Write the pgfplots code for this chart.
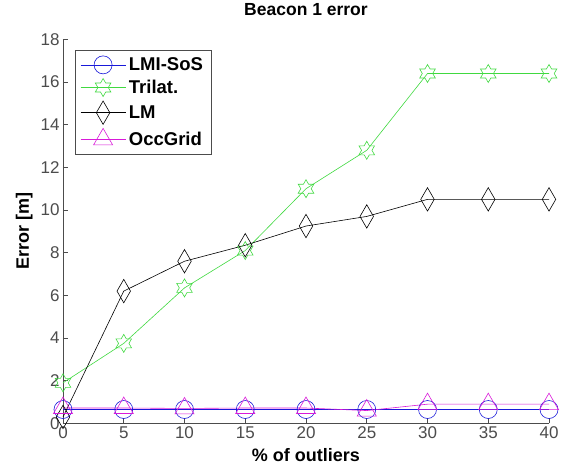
\documentclass[border=0pt]{standalone}
\usepackage{pgfplots}
\pgfplotsset{compat=1.18}
\usepackage{fontspec}
\setmainfont{Liberation Sans}
\usetikzlibrary{calc}
\definecolor{mblue}{rgb}{0.1,0.1,0.85}
\definecolor{mgreen}{rgb}{0.25,0.85,0.25}
\definecolor{mmag}{rgb}{0.85,0.1,0.85}
\definecolor{axgray}{rgb}{0.3,0.3,0.3}
\pgfdeclareplotmark{hexagram}{%
  \pgfpathmoveto{\pgfpointpolar{90}{\pgfplotmarksize}}%
  \pgfpathlineto{\pgfpointpolar{120}{0.57735\pgfplotmarksize}}%
  \pgfpathlineto{\pgfpointpolar{150}{\pgfplotmarksize}}%
  \pgfpathlineto{\pgfpointpolar{180}{0.57735\pgfplotmarksize}}%
  \pgfpathlineto{\pgfpointpolar{210}{\pgfplotmarksize}}%
  \pgfpathlineto{\pgfpointpolar{240}{0.57735\pgfplotmarksize}}%
  \pgfpathlineto{\pgfpointpolar{270}{\pgfplotmarksize}}%
  \pgfpathlineto{\pgfpointpolar{300}{0.57735\pgfplotmarksize}}%
  \pgfpathlineto{\pgfpointpolar{330}{\pgfplotmarksize}}%
  \pgfpathlineto{\pgfpointpolar{0}{0.57735\pgfplotmarksize}}%
  \pgfpathlineto{\pgfpointpolar{30}{\pgfplotmarksize}}%
  \pgfpathlineto{\pgfpointpolar{60}{0.57735\pgfplotmarksize}}%
  \pgfpathclose
  \pgfusepathqstroke
}
\begin{document}
\begin{tikzpicture}
\begin{axis}[
  scale only axis,
  width=486pt, height=384pt,
  xmin=0, xmax=40, ymin=0, ymax=18,
  xtick={0,5,...,40},
  ytick={0,2,...,18},
  axis x line*=bottom, axis y line*=left,
  axis line style={axgray, line width=0.6pt},
  tick style={axgray, line width=0.6pt},
  tick align=inside,
  major tick length=5pt,
  clip=false,
  /pgf/number format/assume math mode=true,
  tick label style={font=\fontsize{17}{20}\selectfont, text=axgray},
  title={\textbf{Beacon 1 error}},
  title style={font=\fontsize{17.5}{20}\selectfont, at={(axis description cs:0.5,1)}, anchor=base, yshift=18pt},
  xlabel={\textbf{\% of outliers}},
  xlabel style={font=\fontsize{18}{20}\selectfont, at={(axis description cs:0.5,0)}, anchor=base, yshift=-38pt},
  ylabel={\textbf{Error [m]}},
  ylabel style={font=\fontsize{18}{20}\selectfont, at={(axis description cs:0,0.5)}, rotate=0, anchor=base, yshift=34pt},
  legend style={at={(axis description cs:0,1)}, anchor=north west, xshift=12pt, yshift=-11pt,
    font=\bfseries\fontsize{18.5}{20}\selectfont, draw=axgray, line width=0.6pt, inner xsep=5pt, inner ysep=5pt,
    row sep=4pt, cells={anchor=west}, nodes={inner xsep=3pt}},
  legend image code/.code={%
    \draw[mark repeat=2, mark phase=2] plot coordinates {(0pt,0pt) (22.5pt,0pt) (45pt,0pt)};},
  every axis plot/.append style={line width=0.6pt},
]
\addplot[mblue, mark=o, mark size=9pt, mark options={solid}] coordinates {
  (0,0.65) (5,0.65) (10,0.65) (15,0.65) (20,0.65) (25,0.65) (30,0.65) (35,0.65) (40,0.65)};
\addlegendentry{LMI-SoS}
\addplot[mgreen, mark=hexagram, mark size=9pt] coordinates {
  (0,1.9) (5,3.75) (10,6.35) (15,8.1) (20,11.0) (25,12.8) (30,16.4) (35,16.4) (40,16.4)};
\addlegendentry{Trilat.}
\addplot[black, mark=diamond, mark size=9pt, mark options={yscale=1.3}] coordinates {
  (0,0.3) (5,6.2) (10,7.6) (15,8.35) (20,9.25) (25,9.7) (30,10.5) (35,10.5) (40,10.5)};
\addlegendentry{LM}
\addplot[mmag, mark=triangle, mark size=11pt] coordinates {
  (0,0.72) (5,0.72) (10,0.7) (15,0.72) (20,0.72) (25,0.6) (30,0.9) (35,0.9) (40,0.9)};
\addlegendentry{OccGrid}
\end{axis}
\useasboundingbox ($(current axis.south west)+(-63pt,-45pt)$) rectangle ($(current axis.north east)+(17pt,38pt)$);
\end{tikzpicture}
\end{document}
